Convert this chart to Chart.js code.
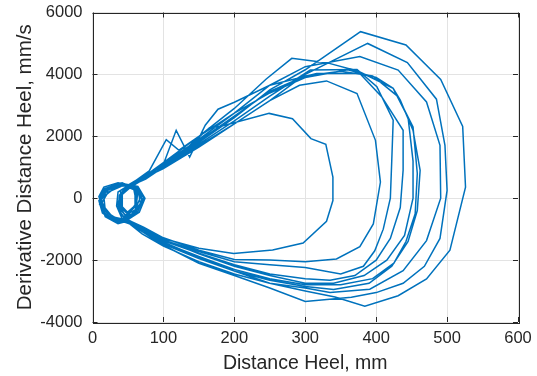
<!DOCTYPE html>
<html>
<head>
<meta charset="utf-8">
<script src="https://cdn.jsdelivr.net/npm/chart.js@4.4.1/dist/chart.umd.min.js"></script>
<style>
  html, body { margin: 0; padding: 0; background: #ffffff; }
  #wrap { width: 537px; height: 376px; position: relative; }
</style>
</head>
<body>
<div id="wrap"><canvas id="c" width="537" height="376"></canvas></div>
<script>
// Axis tick labels
const xTickValues = [0, 100, 200, 300, 400, 500, 600];
const yTickValues = [-4000, -2000, 0, 2000, 4000, 6000];

// Distance Heel (mm) trajectory, one value per sample
const distanceHeel = [
  // cycle 1
  45, 25, 10, 12, 28, 50,
  70, 100, 150, 200, 250, 300, 378, 442, 491, 522, 526, 504, 471, 431, 384, 342, 300, 250, 200, 150, 100, 70, 52,
  // cycle 2
  35, 18, 16, 34, 58, 68, 60, 46, 36, 44,
  75, 100, 150, 200, 250, 300, 388, 444, 485, 497, 500, 490, 468, 438, 400, 365, 300, 250, 200, 150, 100, 75, 55,
  // cycle 3
  30, 12, 14, 32, 58, 72, 64, 48, 38, 40, 60,
  100, 150, 200, 250, 300, 377, 431, 471, 490, 491, 471, 438, 391, 335, 300, 250, 200, 150, 100, 70, 48,
  // cycle 4
  28, 10, 16, 40, 64, 74, 66, 48, 36, 38, 55,
  80, 100, 150, 200, 245, 281, 330, 375, 424, 434, 452, 462, 458, 445, 422, 390, 340, 300, 250, 200, 150, 100, 72, 50,
  // cycle 5
  38, 20, 12, 22, 46, 64, 62, 50, 40, 40, 58,
  80, 104, 122, 150, 200, 250, 300, 360, 400, 424, 445, 452, 452, 440, 415, 383, 340, 300, 250, 200, 150, 100, 70, 50,
  // cycle 6
  32, 14, 9, 20, 42, 60, 60, 44, 34, 36, 60,
  100, 118, 137, 159, 177, 200, 250, 316, 377, 408, 438, 438, 434, 420, 400, 370, 335, 300, 250, 200, 150, 100, 72, 52,
  // cycle 7
  36, 18, 12, 22, 44, 66, 70, 56, 42, 34, 42, 62,
  100, 150, 200, 250, 307, 373, 401, 424, 422, 420, 410, 398, 382, 350, 300, 250, 200, 150, 100, 70, 50,
  // cycle 8
  34, 16, 10, 18, 38, 58, 62, 48, 38, 40, 58,
  100, 150, 200, 250, 292, 330, 373, 399, 406, 396, 377, 344, 300, 250, 200, 150, 100, 72, 50,
  // cycle 9
  30, 14, 9, 16, 36, 62, 72, 64, 46, 36, 40, 60,
  100, 150, 200, 250, 300, 350, 395, 430, 452, 458, 455, 442, 425, 395, 350, 300, 250, 200, 150, 100, 72, 52,
  // cycle 10 (short)
  34, 16, 11, 20, 42, 64, 68, 54, 42, 42, 62,
  90, 120, 165, 180, 249, 282, 308, 329, 339, 339, 330, 297, 254, 199, 150, 100, 72, 50,
  // end
  32, 16, 12, 24, 44, 62, 62, 48, 38
];

// Derivative Distance Heel (mm/s), same samples
const derivativeHeel = [
  // cycle 1
  -750, -550, -200, 150, 380, 420,
  700, 1050, 1800, 2600, 3500, 4150, 5380, 4950, 3840, 2320, 360, -1680, -2610, -3150, -3490, -3190, -3000, -2750, -2450, -2050, -1550, -1150, -820,
  // cycle 2
  -700, -400, 50, 380, 420, 50, -380, -560, -150, 300,
  620, 1000, 1700, 2400, 3150, 4000, 5000, 4380, 3200, 1710, 250, -1300, -2200, -2750, -3050, -3200, -3340, -2900, -2500, -2100, -1520, -1150, -850,
  // cycle 3
  -650, -250, 200, 460, 400, 50, -350, -650, -250, 250, 500,
  1120, 1900, 2750, 3650, 4250, 4580, 4140, 3110, 1710, 0, -1370, -2340, -2940, -3050, -2900, -2750, -2350, -1900, -1420, -1000, -700,
  // cycle 4
  -600, -100, 300, 480, 380, 0, -450, -720, -350, 100, 480,
  820, 1150, 2000, 2900, 3850, 4520, 4380, 4100, 3550, 3170, 2190, 900, -400, -1400, -2200, -2750, -2950, -2850, -2650, -2350, -1950, -1480, -1050, -760,
  // cycle 5
  -720, -450, -50, 320, 460, 250, -200, -520, -300, 150, 520,
  880, 1890, 1550, 2000, 2750, 3400, 3900, 4150, 3900, 3550, 2600, 1200, 0, -1200, -2000, -2500, -2750, -2750, -2500, -2200, -1800, -1330, -950, -700,
  // cycle 6
  -760, -480, -80, 280, 500, 300, -280, -620, -250, 200, 540,
  1100, 2194, 1330, 2357, 2875, 3100, 3650, 4030, 4030, 3274, 2194, 900, -300, -1300, -2000, -2500, -2650, -2600, -2450, -2150, -1780, -1380, -980, -720,
  // cycle 7
  -820, -600, -200, 200, 420, 300, -100, -500, -680, -250, 200, 470,
  1000, 1750, 2500, 3300, 4140, 4160, 3600, 2520, 1220, 0, -1000, -1700, -2200, -2450, -2236, -2150, -2050, -1720, -1350, -950, -720,
  // cycle 8
  -780, -450, -80, 260, 480, 320, -150, -580, -350, 150, 500,
  960, 1650, 2400, 3150, 3650, 3790, 3384, 1870, 520, -830, -1566, -1965, -2050, -2000, -1980, -1680, -1280, -940, -700,
  // cycle 9
  -640, -280, 50, 360, 500, 380, 0, -420, -700, -350, 100, 480,
  1080, 1850, 2650, 3450, 3950, 4100, 3950, 3300, 2300, 800, -500, -1400, -2100, -2600, -2800, -2800, -2600, -2300, -1880, -1440, -1020, -740,
  // cycle 10 (short)
  -740, -480, -120, 240, 460, 300, -220, -560, -280, 120, 520,
  870, 1350, 2280, 2320, 2740, 2570, 1925, 1740, 680, -75, -745, -1446, -1673, -1783, -1620, -1300, -960, -700,
  // end
  -680, -380, 0, 320, 420, 240, -200, -480, -220
];

const points = distanceHeel.map((x, i) => ({ x: x, y: derivativeHeel[i] }));

const textColor = '#262626';
const fontFamily = 'Arial, "Liberation Sans", Helvetica, sans-serif';

const boxAndTicks = {
  id: 'boxAndTicks',
  afterDatasetsDraw(chart) {
    const { ctx, chartArea: a, scales } = chart;
    ctx.save();
    ctx.strokeStyle = textColor;
    ctx.lineWidth = 1;
    const L = 5;
    ctx.beginPath();
    xTickValues.forEach(v => {
      const px = Math.round(scales.x.getPixelForValue(v)) + 0.5;
      ctx.moveTo(px, a.bottom); ctx.lineTo(px, a.bottom - L);
      ctx.moveTo(px, a.top); ctx.lineTo(px, a.top + L);
    });
    yTickValues.forEach(v => {
      const py = Math.round(scales.y.getPixelForValue(v)) + 0.5;
      ctx.moveTo(a.left, py); ctx.lineTo(a.left + L, py);
      ctx.moveTo(a.right, py); ctx.lineTo(a.right - L, py);
    });
    ctx.stroke();
    ctx.strokeRect(Math.round(a.left) + 0.5, Math.round(a.top) + 0.5,
                   Math.round(a.right - a.left), Math.round(a.bottom - a.top));
    ctx.restore();
  }
};

new Chart(document.getElementById('c'), {
  type: 'scatter',
  data: {
    datasets: [{
      data: points,
      showLine: true,
      borderColor: '#0072BD',
      backgroundColor: '#0072BD',
      borderWidth: 1.5,
      pointRadius: 0,
      tension: 0,
      fill: false
    }]
  },
  options: {
    responsive: false,
    animation: false,
    devicePixelRatio: 1,
    layout: { padding: { left: 0, right: 19, top: 12.5, bottom: 0 } },
    plugins: { legend: { display: false }, tooltip: { enabled: false } },
    scales: {
      x: {
        type: 'linear',
        min: 0, max: 600,
        afterBuildTicks: s => { s.ticks = xTickValues.map(v => ({ value: v })); },
        afterFit: s => { s.height = 54; s.paddingLeft = 0; s.paddingRight = 0; },
        grid: { color: '#e3e3e3', lineWidth: 1, drawTicks: false },
        border: { display: false },
        ticks: { color: textColor, font: { family: fontFamily, size: 16.5 }, padding: 7, maxRotation: 0,
                 callback: v => String(v) },
        title: { display: true, text: 'Distance Heel, mm', color: textColor,
                 font: { family: fontFamily, size: 19.5 }, padding: { top: 0, bottom: 1 } }
      },
      y: {
        type: 'linear',
        min: -4000, max: 6000,
        afterBuildTicks: s => { s.ticks = yTickValues.map(v => ({ value: v })); },
        afterFit: s => { s.width = 92.5; s.paddingTop = 0; s.paddingBottom = 0; },
        grid: { color: '#e3e3e3', lineWidth: 1, drawTicks: false },
        border: { display: false },
        ticks: { color: textColor, font: { family: fontFamily, size: 16.5 }, padding: 10,
                 callback: v => String(v) },
        title: { display: true, text: 'Derivative Distance Heel, mm/s', color: textColor,
                 font: { family: fontFamily, size: 20.5 }, padding: { top: 13, bottom: 0 } }
      }
    }
  },
  plugins: [boxAndTicks]
});
</script>
</body>
</html>
